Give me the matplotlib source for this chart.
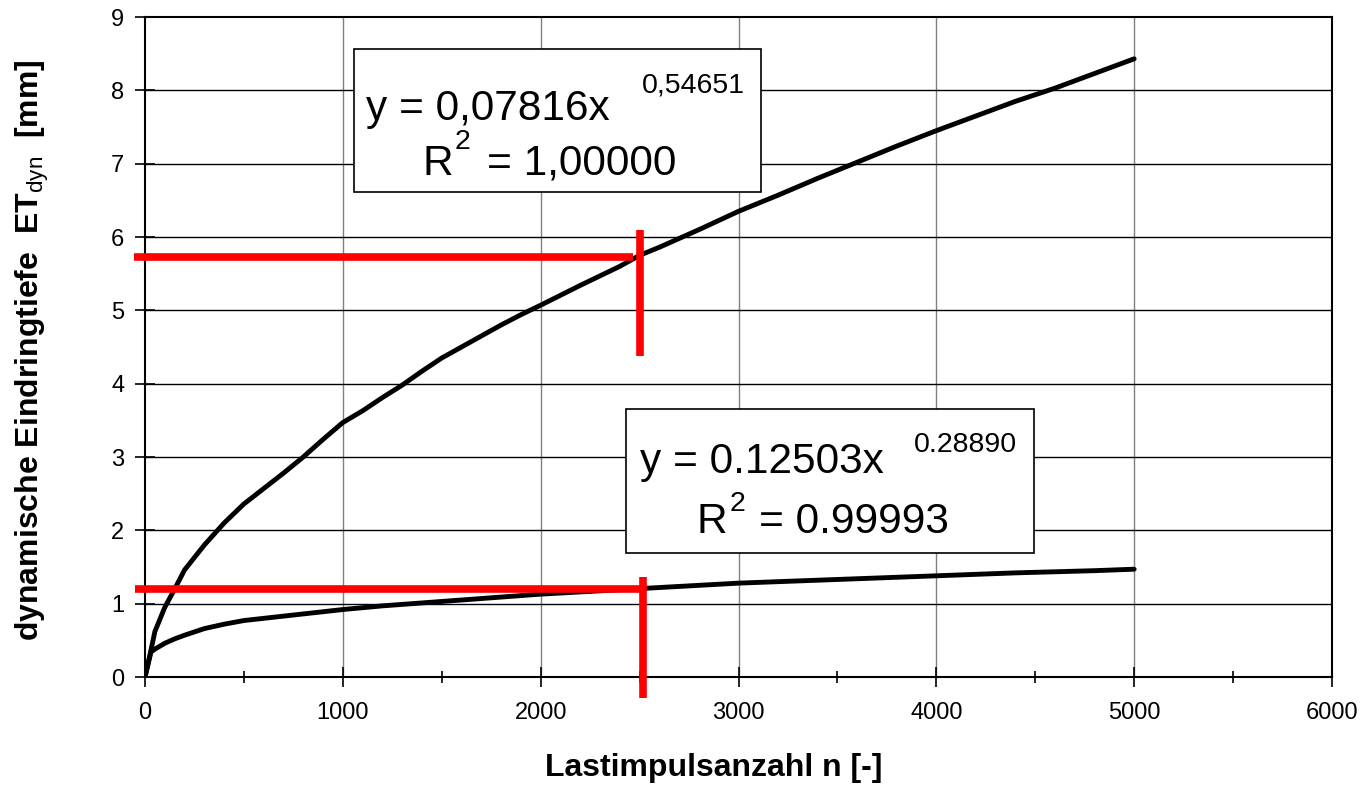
import numpy as np
import matplotlib.pyplot as plt
from matplotlib.patches import Rectangle

plt.rcParams['font.family'] = ['Liberation Sans', 'DejaVu Sans']
plt.rcParams['mathtext.fontset'] = 'custom'
plt.rcParams['mathtext.rm'] = 'Liberation Sans'
plt.rcParams['mathtext.bf'] = 'Liberation Sans:bold'

n_upper = [0, 25, 50, 100, 150, 200, 300, 400, 500, 600, 700, 800, 900, 1000,
           1100, 1200, 1300, 1400, 1500, 1600, 1700, 1800, 1900, 2000, 2200,
           2400, 2500, 2600, 2800, 3000, 3200, 3400, 3600, 3800, 4000, 4200,
           4400, 4600, 4800, 5000]
et_upper = [0, 0.3, 0.62, 0.95, 1.2, 1.46, 1.8, 2.1, 2.36, 2.57, 2.78, 3.0,
            3.24, 3.47, 3.63, 3.81, 3.98, 4.17, 4.35, 4.5, 4.65, 4.8, 4.94,
            5.07, 5.34, 5.6, 5.75, 5.86, 6.1, 6.35, 6.57, 6.8, 7.02, 7.24,
            7.45, 7.65, 7.85, 8.03, 8.23, 8.43]

n_lower = [0, 30, 50, 100, 150, 200, 300, 400, 500, 600, 700, 800, 900, 1000,
           1200, 1400, 1600, 1800, 2000, 2200, 2400, 2600, 2800, 3000, 3300,
           3600, 4000, 4400, 4800, 5000]
et_lower = [0, 0.34, 0.38, 0.46, 0.52, 0.57, 0.66, 0.72, 0.77, 0.8, 0.83,
            0.86, 0.89, 0.92, 0.97, 1.01, 1.05, 1.09, 1.13, 1.16, 1.19, 1.22,
            1.25, 1.28, 1.31, 1.34, 1.38, 1.42, 1.45, 1.47]

# red marker lines: horizontal (n0, n1, ET) and vertical (n, ET0, ET1)
red_h = [(-56, 2465, 5.73), (-50, 2519, 1.20)]
red_v = [(2500, 4.38, 6.09), (2519, -0.29, 1.37)]

fig = plt.figure(figsize=(13.6, 7.85), dpi=100)
ax = fig.add_axes([145/1360, 108/785, 1187/1360, 660/785])

ax.set_xlim(0, 6000)
ax.set_ylim(0, 9)
ax.set_xticks(np.arange(0, 6001, 1000))
ax.set_xticks(np.arange(500, 6000, 1000), minor=True)
ax.set_yticks(np.arange(0, 10, 1))

for v in range(1000, 6000, 1000):
    ax.axvline(v, color='#808080', lw=1.0, zorder=1)
for h in range(1, 9):
    ax.axhline(h, color='black', lw=1.0, zorder=1)

ax.plot(n_upper, et_upper, color='black', lw=3.5, solid_capstyle='round',
        solid_joinstyle='round', zorder=3)
ax.plot(n_lower, et_lower, color='black', lw=3.5, solid_capstyle='round',
        solid_joinstyle='round', zorder=3)

for x0, x1, yv in red_h:
    ax.plot([x0, x1], [yv, yv], color='red', lw=5.5, clip_on=False, zorder=4,
            solid_capstyle='butt')
for xv, y0, y1 in red_v:
    ax.plot([xv, xv], [y0, y1], color='red', lw=5.5, clip_on=False, zorder=4,
            solid_capstyle='butt')

# equation boxes
ax.add_patch(Rectangle((1056, 6.62), 2060, 1.95, facecolor='white',
                       edgecolor='black', lw=1.2, zorder=5))
ax.add_patch(Rectangle((2432, 1.69), 2063, 1.97, facecolor='white',
                       edgecolor='black', lw=1.2, zorder=5))

big = 30.5
small = 20.5
ax.text(1117, 7.75, 'y = 0,07816x', fontsize=big, va='center', ha='left', zorder=6)
ax.text(2510, 8.07, '0,54651', fontsize=small, va='center', ha='left', zorder=6)
ax.text(1404, 7.0, 'R', fontsize=big, va='center', ha='left', zorder=6)
ax.text(1565, 7.3, '2', fontsize=small, va='center', ha='left', zorder=6)
ax.text(1727, 7.0, '= 1,00000', fontsize=big, va='center', ha='left', zorder=6)

ax.text(2500, 2.93, 'y = 0.12503x', fontsize=big, va='center', ha='left', zorder=6)
ax.text(3889, 3.17, '0.28890', fontsize=small, va='center', ha='left', zorder=6)
ax.text(2788, 2.12, 'R', fontsize=big, va='center', ha='left', zorder=6)
ax.text(2955, 2.36, '2', fontsize=small, va='center', ha='left', zorder=6)
ax.text(3106, 2.12, '= 0.99993', fontsize=big, va='center', ha='left', zorder=6)

for s in ax.spines.values():
    s.set_linewidth(1.5)
    s.set_zorder(2)

ax.tick_params(axis='both', which='major', direction='inout', length=14,
               width=1.2, labelsize=17)
ax.tick_params(axis='x', which='minor', direction='inout', length=8, width=1.2)
ax.tick_params(axis='x', which='major', pad=11)
ax.tick_params(axis='y', which='major', pad=8)

fig.text(714/1360, 1 - 768/785, 'Lastimpulsanzahl n [-]', fontsize=23,
         fontweight='bold', ha='center', va='center')
fig.text(32/1360, 1 - 350/785,
         r'dynamische Eindringtiefe  ET$_{\mathrm{dyn}}$  [mm]', fontsize=23,
         fontweight='bold', ha='center', va='center', rotation=90)

fig.savefig('out.png', dpi=100)
